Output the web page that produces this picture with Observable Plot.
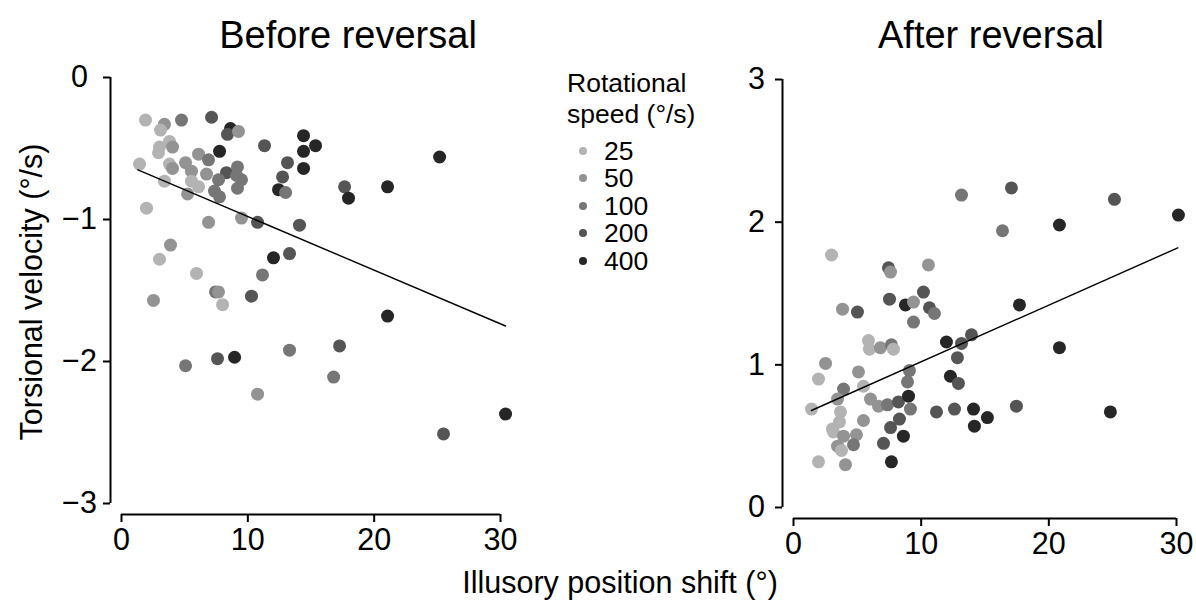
<!DOCTYPE html>
<html>
<head>
<meta charset="utf-8">
<script src="https://cdn.jsdelivr.net/npm/d3@7"></script>
<script src="https://cdn.jsdelivr.net/npm/@observablehq/plot@0.6"></script>
<style>
  html, body { margin: 0; padding: 0; background: #fff; }
  #root { position: relative; width: 1196px; height: 601px; overflow: hidden;
          font-family: "Liberation Sans", Arial, sans-serif; color: #000; }
  #root svg { position: absolute; left: 0; top: 0; overflow: visible; }
  .lbl { position: absolute; white-space: nowrap; transform: translate(-50%, -50%); line-height: 1; }
</style>
</head>
<body>
<div id="root"></div>
<script>
// ---------- data ----------
const speeds = [25, 50, 100, 200, 400];
const greys = ["#b3b3b3", "#939393", "#767676", "#555555", "#262626"];

const xTicks = [0, 10, 20, 30];
const yTicksBefore = [-3, -2, -1, 0];
const yTicksAfter = [0, 1, 2, 3];

const beforeX = [1.90,3.40,3.09,4.75,7.13,8.63,8.39,9.26,3.80,3.01,
  2.93,4.04,7.76,11.32,14.41,15.36,14.41,14.41,1.43,3.80,
  4.04,5.07,6.10,6.89,5.54,6.73,8.31,9.18,9.11,9.50,
  7.68,9.18,5.54,6.10,3.40,7.36,7.76,5.23,13.14,12.75,
  12.43,12.99,1.98,6.89,9.50,10.77,14.09,3.88,3.01,5.94,
  11.16,12.03,13.30,7.44,7.68,8.00,2.53,10.29,5.07,7.60,
  8.95,13.30,10.77,25.18,17.66,17.97,21.06,21.06,17.26,16.79,
  30.40,25.49];
const beforeY = [-0.30,-0.33,-0.37,-0.30,-0.28,-0.36,-0.40,-0.38,-0.45,-0.49,
  -0.53,-0.49,-0.52,-0.48,-0.41,-0.48,-0.52,-0.64,-0.61,-0.61,
  -0.64,-0.60,-0.54,-0.58,-0.66,-0.68,-0.67,-0.63,-0.69,-0.72,
  -0.72,-0.78,-0.73,-0.77,-0.73,-0.80,-0.84,-0.82,-0.60,-0.70,
  -0.79,-0.81,-0.92,-1.02,-0.99,-1.02,-1.04,-1.18,-1.28,-1.38,
  -1.39,-1.27,-1.24,-1.51,-1.51,-1.60,-1.57,-1.54,-2.03,-1.98,
  -1.97,-1.92,-2.23,-0.56,-0.77,-0.85,-0.77,-1.68,-1.89,-2.11,
  -2.37,-2.51];
const beforeSpeed = [25,50,25,100,200,400,200,50,25,25,
  25,50,400,200,400,400,400,400,25,25,
  50,50,50,100,50,50,200,100,100,100,
  100,100,25,25,25,100,100,50,200,200,
  400,100,25,50,50,200,200,50,25,25,
  100,400,200,100,50,25,50,200,100,200,
  400,100,50,400,200,400,400,400,200,100,
  400,200];

const afterX = [2.98,7.44,7.60,10.57,10.18,7.52,8.77,9.40,3.84,5.01,
  10.65,11.04,9.40,5.87,5.95,6.81,7.67,7.83,2.51,1.96,
  5.09,3.92,5.48,9.08,8.93,3.45,1.41,6.03,6.66,7.36,
  8.22,9.01,9.16,3.68,5.48,7.60,8.30,3.05,3.60,3.13,
  3.92,4.93,4.70,3.45,3.76,7.05,8.61,1.96,4.07,7.67,
  13.16,17.07,25.14,30.15,20.83,16.37,17.70,11.98,13.16,13.94,
  12.84,20.83,12.29,12.92,11.20,12.61,14.10,15.19,14.17,17.46,
  24.82];
const afterY = [1.77,1.68,1.65,1.70,1.51,1.46,1.42,1.44,1.39,1.37,
  1.40,1.36,1.30,1.17,1.11,1.12,1.14,1.11,1.01,0.90,
  0.95,0.83,0.85,0.96,0.88,0.76,0.69,0.76,0.71,0.72,
  0.74,0.78,0.69,0.67,0.61,0.56,0.62,0.55,0.60,0.53,
  0.50,0.51,0.44,0.43,0.40,0.45,0.50,0.32,0.30,0.32,
  2.19,2.24,2.16,2.05,1.98,1.94,1.42,1.16,1.15,1.21,
  1.05,1.12,0.92,0.87,0.67,0.69,0.69,0.63,0.57,0.71,
  0.67];
const afterSpeed = [25,200,50,50,200,200,400,50,50,200,
  200,100,100,25,25,50,100,25,50,25,
  50,100,25,100,100,50,25,50,50,100,
  200,400,100,25,50,200,200,25,25,25,
  50,50,100,50,25,200,400,25,50,400,
  100,200,200,400,400,100,400,400,200,200,
  200,400,400,200,200,200,400,400,400,200,
  400];

// fitted regression lines (end points)
const beforeFitX = [1.3, 30.4];
const beforeFitY = [-0.65, -1.75];
const afterFitX = [1.4, 30.1];
const afterFitY = [0.68, 1.82];

// ---------- drawing ----------
const FONT = '"Liberation Sans", Arial, sans-serif';
const fmt = d => d < 0 ? "\u2212" + Math.abs(d) : String(d);
const rows = (xs, ys, ss) => xs.map((x, i) => ({x, y: ys[i], speed: ss[i]}));
const fitRows = (xs, ys) => xs.map((x, i) => ({x, y: ys[i]}));

function panel({data, fit, yTicks, xRange, yRange, marginLeft, marginRight, marginBottom, yPad}) {
  return Plot.plot({
    width: 1196, height: 601,
    marginLeft, marginRight, marginTop: 40, marginBottom,
    style: {fontFamily: FONT, fontSize: "30px", color: "#000", background: "transparent", overflow: "visible"},
    x: {domain: [xTicks[0], xTicks[xTicks.length - 1]], range: xRange},
    y: {domain: [yTicks[0], yTicks[yTicks.length - 1]], range: yRange},
    color: {type: "ordinal", domain: speeds, range: greys},
    marks: [
      Plot.ruleX([xTicks[0]], {y1: yTicks[0], y2: yTicks[yTicks.length - 1], dx: -11, stroke: "#000", strokeWidth: 2}),
      Plot.ruleY([yTicks[0]], {x1: xTicks[0], x2: xTicks[xTicks.length - 1], dy: 11, stroke: "#000", strokeWidth: 2}),
      Plot.axisY(yTicks, {anchor: "left", tickSize: 7, tickPadding: yPad, textAnchor: "middle", stroke: "#000", strokeWidth: 2, fontSize: 30.5, tickFormat: fmt, label: null}),
      Plot.axisX(xTicks, {anchor: "bottom", tickSize: 8, tickPadding: 6, stroke: "#000", strokeWidth: 2, fontSize: 30.5, tickFormat: fmt, label: null}),
      Plot.dot(data, {x: "x", y: "y", fill: "speed", r: 6.5}),
      Plot.line(fit, {x: "x", y: "y", stroke: "#000", strokeWidth: 1.4})
    ]
  });
}

const root = document.getElementById("root");

root.appendChild(panel({
  data: rows(beforeX, beforeY, beforeSpeed),
  fit: fitRows(beforeFitX, beforeFitY),
  yTicks: yTicksBefore,
  xRange: [121, 500], yRange: [503, 77],
  marginLeft: 110, marginRight: 686, marginBottom: 87, yPad: 24
}));

root.appendChild(panel({
  data: rows(afterX, afterY, afterSpeed),
  fit: fitRows(afterFitX, afterFitY),
  yTicks: yTicksAfter,
  xRange: [793, 1176], yRange: [507, 79],
  marginLeft: 782, marginRight: 20, marginBottom: 83, yPad: 19
}));

function label(text, x, y, size, rotate) {
  const d = document.createElement("div");
  d.className = "lbl";
  d.textContent = text;
  d.style.left = x + "px";
  d.style.top = y + "px";
  d.style.fontSize = size + "px";
  if (rotate) d.style.transform = "translate(-50%, -50%) rotate(-90deg)";
  root.appendChild(d);
}

label("Before reversal", 348, 35, 38);
label("After reversal", 991, 35, 38);
label("Torsional velocity (\u00b0/s)", 31, 292, 30.5, true);
label("Illusory position shift (\u00b0)", 620, 582, 30.5);

// legend
const lg = document.createElement("div");
lg.style.cssText = "position:absolute;left:567px;top:68px;font-size:26.5px;line-height:31px;";
lg.innerHTML = "Rotational<br>speed (\u00b0/s)";
root.appendChild(lg);
speeds.forEach((s, i) => {
  const cy = 151 + i * 27.4;
  const c = document.createElement("div");
  c.style.cssText = `position:absolute;left:${583 - 4}px;top:${cy - 4}px;width:8px;height:8px;border-radius:50%;background:${greys[i]};`;
  root.appendChild(c);
  const t = document.createElement("div");
  t.style.cssText = `position:absolute;left:604px;top:${cy}px;transform:translateY(-50%);font-size:26.5px;line-height:1;`;
  t.textContent = String(s);
  root.appendChild(t);
});
</script>
</body>
</html>
